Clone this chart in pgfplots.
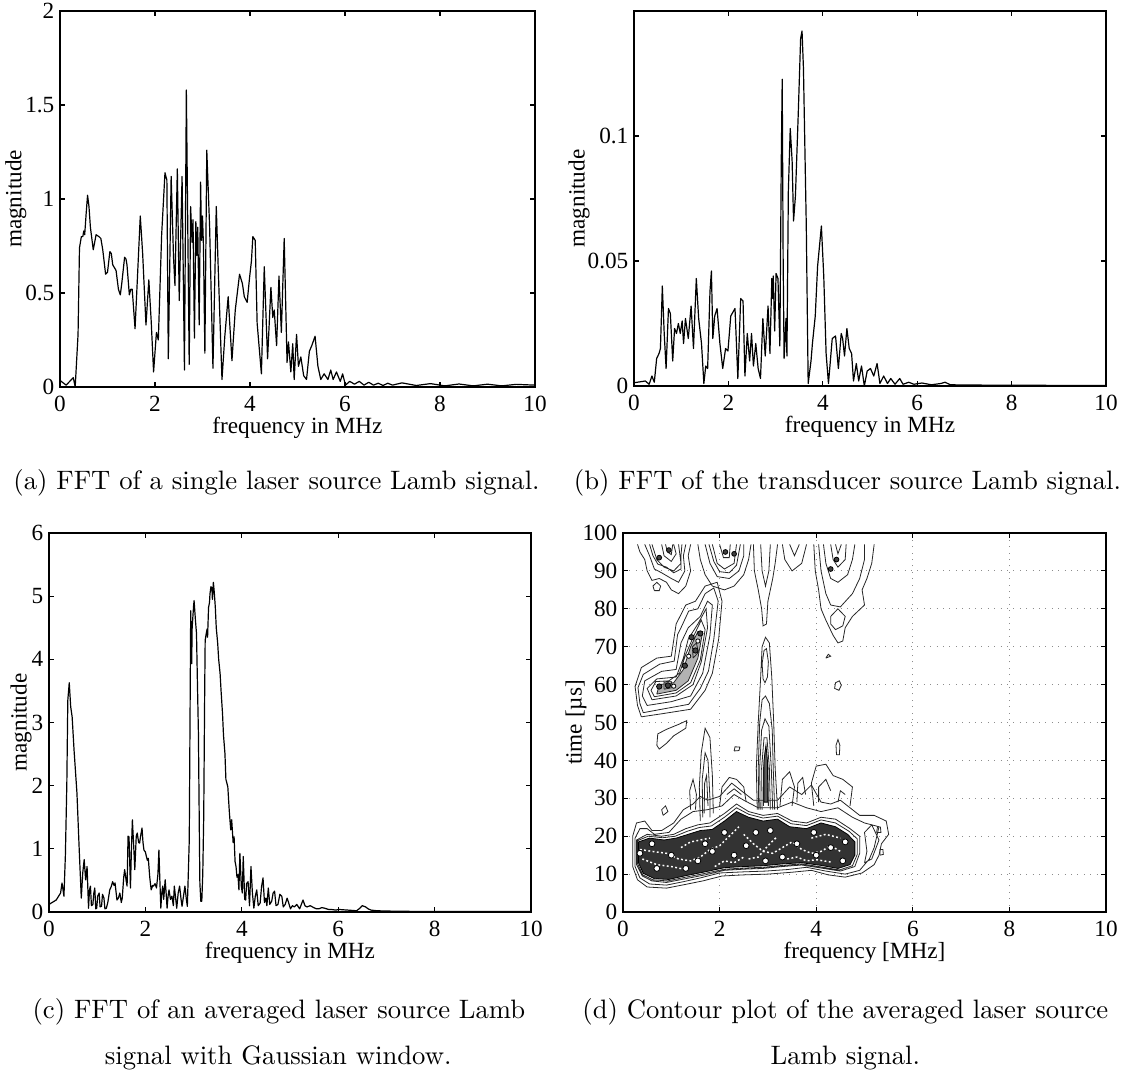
\documentclass[border=0pt]{standalone}
\usepackage{fontspec}
\newfontfamily\tnr{Liberation Serif}
\usepackage{pgfplots}
\pgfplotsset{compat=1.18}
\pgfplotsset{
  mat/.style={
    scale only axis, xmin=0, xmax=10,
    xtick={0,2,4,6,8,10}, xticklabels={0,2,4,6,8,10},
    tick align=inside, major tick length=2pt,
    axis line style={line width=0.45pt},
    every tick/.style={black, line width=0.4pt},
    ticklabel style={font=\tnr\fontsize{8.7}{10}\selectfont},
    label style={font=\tnr\fontsize{8.7}{10}\selectfont},
    yticklabel style={xshift=1.4pt},
    xlabel style={at={(axis description cs:0.5,0)}, anchor=center, yshift=-15.3pt},
    clip=true,
  },
  sig/.style={black, line width=0.45pt, line join=round},
  cl/.style={black!85, line width=0.3pt, unbounded coords=jump},
}
\begin{document}
\begin{tikzpicture}
\useasboundingbox (0,0) rectangle (425.25pt,-403.125pt);
% ---------------- (a)
\begin{axis}[mat, at={(22.5pt,-4.125pt)}, anchor=north west,
  width=178.125pt, height=141pt, ymin=0, ymax=2,
  ytick={0,0.5,1,1.5,2}, yticklabels={0,0.5,1,1.5,2},
  xlabel={frequency in MHz}, ylabel={magnitude},
  ylabel style={at={(axis description cs:-0.093,0.5)}, anchor=center}]
\addplot[sig] coordinates {
(0,0.035)(0.13,0.01)(0.28,0.05)(0.32,0.0)(0.38,0.28)(0.41,0.74)(0.45,0.8)(0.48,0.8)(0.5,0.83)(0.52,0.81)
(0.55,0.92)(0.58,1.02)(0.61,0.96)(0.64,0.85)(0.7,0.73)(0.76,0.81)(0.82,0.8)(0.86,0.79)(0.9,0.73)(0.96,0.6)
(1.0,0.61)(1.05,0.72)(1.08,0.71)(1.11,0.65)(1.18,0.62)(1.23,0.52)(1.27,0.49)(1.3,0.55)(1.36,0.69)(1.39,0.68)
(1.41,0.65)(1.46,0.49)(1.49,0.52)(1.52,0.52)(1.58,0.31)(1.63,0.58)(1.69,0.91)(1.74,0.71)(1.81,0.33)(1.87,0.57)
(1.92,0.35)(1.97,0.08)(2.03,0.29)(2.07,0.25)(2.14,0.81)(2.21,1.14)(2.25,1.1)(2.28,0.15)(2.34,1.12)(2.39,0.69)
(2.42,0.54)(2.47,1.16)(2.51,0.46)(2.57,1.12)(2.62,0.09)(2.66,1.58)(2.72,0.12)(2.75,0.96)(2.78,0.77)(2.8,0.89)
(2.83,0.26)(2.86,0.88)(2.88,0.7)(2.9,0.85)(2.93,0.33)(2.96,1.09)(2.98,0.78)(3.0,0.91)(3.02,0.75)(3.05,0.18)
(3.09,1.26)(3.15,0.85)(3.22,0.1)(3.29,0.96)(3.33,0.64)(3.41,0.04)(3.47,0.27)(3.54,0.48)(3.62,0.14)(3.69,0.41)
(3.78,0.6)(3.84,0.55)(3.88,0.48)(3.94,0.45)(3.99,0.58)(4.03,0.67)(4.06,0.8)(4.11,0.78)(4.15,0.34)(4.24,0.07)
(4.3,0.64)(4.37,0.15)(4.44,0.53)(4.48,0.37)(4.51,0.41)(4.56,0.22)(4.61,0.59)(4.66,0.29)(4.72,0.79)(4.78,0.13)
(4.81,0.24)(4.86,0.08)(4.9,0.23)(4.93,0.04)(4.98,0.28)(5.02,0.11)(5.07,0.16)(5.13,0.06)(5.19,0.04)(5.25,0.19)
(5.3,0.22)(5.37,0.27)(5.43,0.11)(5.49,0.04)(5.56,0.07)(5.64,0.04)(5.7,0.09)(5.75,0.04)(5.82,0.08)(5.9,0.03)
(5.95,0.07)(6.01,0.01)(6.1,0.03)(6.2,0.015)(6.3,0.03)(6.4,0.01)(6.5,0.025)(6.6,0.01)(6.7,0.02)(6.8,0.008)
(6.9,0.02)(7.0,0.01)(7.2,0.022)(7.5,0.008)(7.8,0.018)(8.1,0.006)(8.4,0.016)(8.7,0.006)(9.0,0.015)(9.3,0.006)
(9.6,0.014)(10,0.01)};
\end{axis}
% ---------------- (b)
\begin{axis}[mat, at={(237.75pt,-4.125pt)}, anchor=north west,
  width=177pt, height=140.625pt, ymin=0, ymax=0.15,
  ytick={0,0.05,0.1}, yticklabels={0,0.05,0.1},
  xlabel={frequency in MHz}, ylabel={magnitude},
  ylabel style={at={(axis description cs:-0.1165,0.5)}, anchor=center}]
\addplot[sig] coordinates {
(0,0.0013)(0.24,0.002)(0.32,0.0007)(0.38,0.004)(0.43,0.0015)(0.48,0.011)(0.53,0.013)(0.56,0.015)(0.6,0.04)(0.64,0.021)
(0.68,0.007)(0.73,0.031)(0.77,0.029)(0.82,0.01)(0.86,0.023)(0.9,0.021)(0.94,0.025)(0.98,0.021)(1.02,0.026)(1.05,0.017)
(1.09,0.027)(1.15,0.019)(1.21,0.032)(1.26,0.015)(1.32,0.043)(1.37,0.027)(1.43,0.017)(1.48,0.001)(1.52,0.008)(1.56,0.007)
(1.61,0.038)(1.64,0.046)(1.67,0.019)(1.71,0.028)(1.76,0.031)(1.82,0.017)(1.88,0.007)(1.94,0.015)(1.99,0.014)(2.05,0.028)
(2.14,0.031)(2.2,0.003)(2.26,0.035)(2.31,0.034)(2.35,0.004)(2.4,0.021)(2.45,0.01)(2.49,0.021)(2.53,0.008)(2.58,0.017)
(2.63,0.007)(2.68,0.003)(2.73,0.027)(2.78,0.012)(2.84,0.032)(2.88,0.013)(2.92,0.043)(2.94,0.035)(2.95,0.044)(2.98,0.022)
(3.01,0.045)(3.05,0.043)(3.09,0.016)(3.12,0.09)(3.14,0.1227)(3.16,0.05)(3.18,0.011)(3.22,0.027)(3.24,0.012)(3.27,0.078)
(3.31,0.103)(3.35,0.09)(3.38,0.066)(3.42,0.076)(3.48,0.109)(3.53,0.139)(3.56,0.142)(3.59,0.127)(3.65,0.064)(3.69,0.001)
(3.75,0.01)(3.78,0.017)(3.84,0.028)(3.89,0.048)(3.97,0.064)(4.02,0.044)(4.07,0.013)(4.12,0.001)(4.2,0.019)(4.27,0.02)
(4.33,0.007)(4.39,0.021)(4.42,0.019)(4.46,0.012)(4.51,0.023)(4.56,0.015)(4.61,0.013)(4.65,0.002)(4.71,0.009)(4.76,0.002)
(4.82,0.008)(4.88,0)(4.94,0.006)(5.01,0.007)(5.08,0.004)(5.15,0.009)(5.21,0.001)(5.29,0.004)(5.37,0.001)(5.44,0.003)
(5.53,0.0007)(5.63,0.003)(5.7,0.0007)(5.82,0.0015)(5.93,0.0007)(6.1,0.0012)(6.3,0.0005)(6.5,0.001)(6.59,0.0015)(6.7,0.0005)
(7,0.0004)(8,0.0003)(10,0.0002)};
\end{axis}
% ---------------- (c)
\begin{axis}[mat, at={(18.375pt,-199.875pt)}, anchor=north west,
  width=180.75pt, height=142.125pt, ymin=0, ymax=6,
  ytick={0,1,2,3,4,5,6}, yticklabels={0,1,2,3,4,5,6},
  xlabel={frequency in MHz}, ylabel={magnitude},
  ylabel style={at={(axis description cs:-0.058,0.5)}, anchor=center}]
\addplot[sig] coordinates {
(0,0.12)(0.15,0.19)(0.24,0.3)(0.27,0.46)(0.31,0.25)(0.34,0.9)(0.37,2.04)(0.39,3.35)(0.42,3.63)(0.45,3.25)
(0.48,3.09)(0.52,2.56)(0.58,1.88)(0.63,0.93)(0.67,0.22)(0.7,0.62)(0.73,0.83)(0.76,0.51)(0.79,0.72)(0.82,0.06)
(0.84,0.35)(0.86,0.41)(0.88,0.1)(0.91,0.12)(0.93,0.3)(0.95,0.38)(0.97,0.05)(0.99,0.06)(1.01,0.25)(1.04,0.3)
(1.06,0.08)(1.09,0.09)(1.11,0.28)(1.14,0.22)(1.16,0.05)(1.19,0.06)(1.22,0.15)(1.26,0.35)(1.29,0.4)(1.32,0.48)
(1.35,0.42)(1.37,0.46)(1.41,0.19)(1.44,0.22)(1.47,0.3)(1.5,0.15)(1.52,0.22)(1.55,0.55)(1.57,0.67)(1.6,0.5)
(1.62,0.41)(1.64,1.2)(1.66,1.19)(1.69,0.38)(1.71,1.0)(1.73,1.46)(1.76,1.0)(1.78,0.67)(1.81,1.2)(1.83,1.25)
(1.86,1.1)(1.88,1.09)(1.9,1.2)(1.93,1.33)(1.95,1.1)(1.97,0.98)(2.0,0.95)(2.02,0.88)(2.04,0.82)(2.06,0.85)
(2.09,0.55)(2.12,0.35)(2.15,0.42)(2.17,0.41)(2.2,0.45)(2.23,0.38)(2.26,0.6)(2.28,0.98)(2.3,0.5)(2.32,0.06)
(2.34,0.3)(2.36,0.41)(2.38,0.2)(2.41,0.51)(2.43,0.3)(2.45,0.06)(2.47,0.25)(2.49,0.35)(2.52,0.2)(2.55,0.25)
(2.58,0.1)(2.6,0.41)(2.63,0.2)(2.65,0.06)(2.68,0.3)(2.71,0.41)(2.74,0.2)(2.76,0.09)(2.79,0.25)(2.82,0.41)
(2.85,0.2)(2.87,0.09)(2.89,0.6)(2.91,1.14)(2.94,4.77)(2.96,3.93)(2.97,4.5)(3.0,4.85)(3.01,4.93)(3.04,4.6)
(3.06,4.41)(3.08,3.6)(3.1,2.83)(3.12,1.2)(3.13,0.46)(3.15,0.17)(3.17,0.17)(3.19,0.6)(3.21,1.51)(3.23,3.5)
(3.24,4.3)(3.26,4.4)(3.28,4.48)(3.29,4.35)(3.31,4.82)(3.33,4.9)(3.34,5.04)(3.36,5.15)(3.38,5.13)(3.39,4.95)
(3.41,5.22)(3.43,5.05)(3.45,4.83)(3.47,4.5)(3.5,4.25)(3.52,4.0)(3.55,3.77)(3.57,3.5)(3.6,3.14)(3.62,2.8)
(3.65,2.51)(3.67,2.1)(3.71,1.98)(3.74,1.6)(3.77,1.3)(3.79,1.46)(3.82,1.1)(3.84,1.19)(3.86,0.8)(3.88,0.72)
(3.9,0.55)(3.92,0.59)(3.94,0.35)(3.96,0.93)(3.99,0.41)(4.01,0.3)(4.03,0.88)(4.06,0.2)(4.08,0.19)(4.1,0.45)
(4.13,0.48)(4.16,0.1)(4.19,0.72)(4.22,0.3)(4.25,0.06)(4.28,0.25)(4.31,0.35)(4.34,0.1)(4.38,0.14)(4.41,0.4)
(4.44,0.54)(4.47,0.15)(4.5,0.22)(4.52,0.1)(4.55,0.38)(4.58,0.12)(4.62,0.17)(4.65,0.3)(4.68,0.33)(4.71,0.1)
(4.75,0.12)(4.79,0.28)(4.83,0.25)(4.86,0.08)(4.9,0.12)(4.94,0.22)(4.97,0.15)(5.01,0.05)(5.05,0.1)(5.09,0.08)
(5.14,0.12)(5.2,0.05)(5.27,0.19)(5.31,0.1)(5.35,0.08)(5.42,0.1)(5.49,0.07)(5.55,0.05)(5.6,0.05)(5.66,0.07)
(5.72,0.06)(5.8,0.04)(5.86,0.04)(5.95,0.03)(6.01,0.04)(6.2,0.03)(6.38,0.02)(6.45,0.06)(6.5,0.1)(6.57,0.08)
(6.62,0.05)(6.68,0.03)(6.8,0.02)(7,0.015)(7.5,0.01)(8,0.01)(9,0.008)(10,0.008)};
\end{axis}
% ---------------- (d)
\begin{axis}[mat, at={(233.625pt,-199.875pt)}, anchor=north west,
  width=181.125pt, height=142.125pt, ymin=0, ymax=100,
  ytick={0,10,...,100}, yticklabels={0,10,20,30,40,50,60,70,80,90,100},
  grid=major, grid style={dotted, black!45, line width=0.4pt},
  xlabel={frequency [MHz]}, ylabel={time [µs]},
  ylabel style={at={(axis description cs:-0.097,0.5)}, anchor=center}]
% band outer rings
\addplot[cl] table[row sep=\\]{x y\\
0.2 12\\0.2 20\\0.28 23.5\\0.45 24\\0.6 21.5\\0.8 21.5\\1.05 23.5\\1.25 27\\1.45 28.5\\1.6 30.5\\1.75 29.5\\2.0 30.5\\2.25 34\\2.45 32\\2.7 29.5\\3.2 29.5\\3.45 33\\3.7 31\\3.9 33.5\\4.1 29\\4.3 28.5\\4.5 29.5\\4.7 27.5\\4.9 25.5\\5.2 25.5\\5.45 24\\5.5 20.5\\5.35 18\\5.3 15\\5.2 12.5\\4.95 10.3\\4.6 9.2\\4.25 9.8\\3.9 11\\3.5 10.5\\3.0 10\\2.5 9.8\\2.05 9.5\\1.65 8.2\\1.3 7.3\\0.9 6.3\\0.5 6.6\\0.3 8.5\\0.2 12\\
nan nan\\
0.25 12\\0.25 19.5\\0.35 22\\0.5 22\\0.65 20.5\\0.95 21\\1.2 24.5\\1.45 26.5\\1.75 27\\2.05 28\\2.3 31\\2.5 29.5\\2.8 27.5\\3.2 27.5\\3.5 29\\3.8 27.5\\4.1 26.5\\4.45 27.5\\4.75 25\\5.0 23.5\\5.3 22.5\\5.2 17\\5.1 14\\4.9 11\\4.6 10\\4.2 10.8\\3.8 11.8\\3.4 11.2\\2.95 10.8\\2.5 10.6\\2.0 10.3\\1.6 9\\1.25 8\\0.9 7.1\\0.55 7.4\\0.35 9\\0.25 12\\
nan nan\\
0.28 12.5\\0.28 19\\0.5 20.5\\0.8 20\\1.05 20.5\\1.3 22\\1.55 23\\1.8 23.5\\2.1 26\\2.35 28.5\\2.6 26.5\\2.9 25.5\\3.2 26\\3.5 24\\3.8 23.5\\4.1 25\\4.4 24.5\\4.7 22\\4.9 20\\4.9 15.5\\4.8 12\\4.5 10.8\\4.1 11.6\\3.7 12.4\\3.3 12\\2.9 11.5\\2.5 11.3\\2.1 11\\1.7 9.8\\1.3 8.8\\0.9 7.8\\0.6 8.2\\0.4 9.5\\0.28 12.5\\
nan nan\\
0.3 12.8\\0.3 18.8\\0.52 20\\0.82 19.6\\1.08 20\\1.33 21.3\\1.58 22.3\\1.83 22.7\\2.1 25\\2.35 27.5\\2.6 25.8\\2.9 24.8\\3.2 25.3\\3.48 23.3\\3.8 22.8\\4.1 24.3\\4.4 23.5\\4.68 21.3\\4.85 19.3\\4.85 15.2\\4.75 12.2\\4.48 11.1\\4.1 11.9\\3.7 12.7\\3.3 12.3\\2.9 11.8\\2.5 11.6\\2.1 11.3\\1.7 10.2\\1.3 9.2\\0.92 8.2\\0.62 8.5\\0.41 9.8\\0.3 12.8\\
nan nan\\
5.0 13\\5.05 16\\5.0 21\\5.15 23\\5.3 19\\5.15 14\\5.0 13\\
};
% dense core
\addplot[fill=black!80, draw=black, line width=0.3pt] coordinates {
(0.32,13)(0.32,18.5)(0.55,19.5)(0.85,19)(1.1,19.5)(1.35,20.5)(1.6,21.5)(1.85,21.8)(2.1,24)(2.35,26.5)(2.6,25)(2.9,24)(3.2,24.5)(3.45,22.5)(3.8,22)(4.1,23.5)(4.4,22.5)(4.65,20.5)(4.8,18.5)(4.8,15)(4.7,12.5)(4.45,11.5)(4.1,12.3)(3.7,13)(3.3,12.7)(2.9,12.2)(2.5,12)(2.1,11.7)(1.7,10.6)(1.3,9.6)(0.95,8.6)(0.65,8.8)(0.42,10.2)(0.32,13)};
% light ridges inside the core
\addplot[white, line width=0.55pt, dash pattern=on 0.7pt off 0.9pt, unbounded coords=jump] table[row sep=\\]{x y\\
0.35 16.5\\0.6 16\\0.9 15.5\\1.15 14\\1.4 13.5\\1.6 14.5\\1.8 16.5\\2.0 17.5\\2.2 20\\2.4 22.5\\
nan nan\\
2.5 20.5\\2.7 18\\2.9 16\\3.1 15.5\\3.3 17\\3.5 18.5\\3.7 16.5\\3.9 15.5\\4.1 16\\4.3 17.5\\4.5 16\\
nan nan\\
0.4 14\\0.7 12.5\\1.0 12\\1.3 11.2\\
nan nan\\
2.6 14\\2.8 14.5\\3.0 17.5\\3.2 20\\
nan nan\\
3.9 19.5\\4.2 20.5\\4.5 19.5\\
nan nan\\
1.9 12\\2.1 13.5\\2.3 13\\2.5 14.5\\
nan nan\\
1.2 17\\1.4 18.5\\1.6 19\\1.8 19.5\\
nan nan\\
3.4 14\\3.6 14.5\\3.8 13.5\\4.0 13.8\\4.3 13.2\\
};
\addplot[only marks, mark=*, mark size=1.1pt, mark options={fill=white, draw=black, line width=0.3pt}] coordinates {
(0.35,15.5)(1.0,15)(1.55,13.5)(1.85,16)(2.3,15)(2.75,21)(3.3,14.5)(3.6,18)(4.0,15)(4.3,17)(4.55,13.5)(0.7,11.5)(1.3,11.5)(2.55,17.5)(3.05,21.5)(0.6,18)(2.1,21)(3.95,21)(4.6,18.5)(1.7,18)(2.95,13.5)};
% columns and isolated loops
\addplot[cl] table[row sep=\\]{x y\\
1.6 24\\1.58 33\\1.62 42\\1.7 48.5\\1.8 46\\1.85 36\\1.87 26\\nan nan\\
1.65 25\\1.64 35\\1.7 42\\1.76 40\\1.8 30\\1.8 25\\nan nan\\
1.68 26\\1.69 34\\1.73 36\\1.76 28\\nan nan\\
1.4 27\\1.38 32\\1.45 35\\1.52 31\\1.5 27\\nan nan\\
2.0 28\\2.05 33\\2.2 35.5\\2.35 35\\2.5 33\\2.55 29\\nan nan\\
2.15 31\\2.3 32.5\\2.45 31\\nan nan\\
2.78 27\\2.76 38\\2.8 50\\2.85 62\\2.88 70\\2.95 72.5\\3.03 71\\3.08 62\\3.12 50\\3.15 38\\3.2 27\\nan nan\\
2.9 61.5\\2.88 65.5\\2.92 69\\2.97 69.5\\3.01 66\\2.99 62\\2.94 60.5\\2.9 61.5\\nan nan\\
2.81 27\\2.8 38\\2.83 50\\2.88 56\\2.95 57\\3.03 55\\3.09 48\\3.11 38\\3.14 27\\nan nan\\
2.84 27\\2.83 38\\2.87 48\\2.94 51\\3.02 49\\3.07 38\\3.1 27\\nan nan\\
2.88 27\\2.87 38\\2.92 46\\2.98 46\\3.03 38\\3.05 27\\nan nan\\
2.91 28\\2.91 38\\2.95 43\\3.0 38\\3.01 28\\nan nan\\
3.25 28\\3.3 35\\3.45 37\\3.55 33\\3.5 28\\nan nan\\
3.6 29\\3.62 34\\3.72 35.5\\3.78 31\\nan nan\\
3.95 28\\3.9 34\\4.0 38.5\\4.2 39\\4.35 36\\4.55 35\\4.75 33\\4.7 28\\nan nan\\
4.05 29\\4.05 33\\4.2 35\\4.3 32\\nan nan\\
4.45 29\\4.5 32\\4.6 31\\nan nan\\
0.83 25.5\\0.8 27\\0.88 28\\0.93 26.5\\0.83 25.5\\nan nan\\
0.7 44\\0.72 47\\0.9 48.2\\1.15 49.5\\1.32 50.5\\1.3 48.5\\1.05 46.5\\0.9 44.5\\0.75 43\\0.7 44\\nan nan\\
2.3 42.5\\2.32 43.6\\2.42 43.5\\2.4 42.6\\2.3 42.5\\nan nan\\
4.42 41.5\\4.41 44\\4.45 45.5\\4.49 44\\4.48 41.5\\4.42 41.5\\nan nan\\
4.38 59\\4.4 60.5\\4.48 61\\4.52 59.8\\4.47 58.5\\4.38 59\\nan nan\\
4.2 67\\4.25 68\\4.3 67.5\\4.2 67\\nan nan\\
5.25 21\\5.27 22.5\\5.33 22.4\\5.34 21\\5.25 21\\nan nan\\
5.32 15\\5.32 16.5\\5.38 16.5\\5.39 15.2\\5.32 15\\
};
\addplot[fill=black!65, draw=black, line width=0.3pt] coordinates {
(2.92,29)(2.92,40)(2.96,44)(2.99,40)(3.0,29)(2.92,29)};
% diagonal streak
\addplot[fill=black!30, draw=black!85, line width=0.3pt] coordinates {
(0.7,57.5)(1.1,58.5)(1.35,61)(1.55,67)(1.65,74)(1.55,74)(1.4,70)(1.25,64)(1.05,60.5)(0.75,60)(0.7,57.5)};
\addplot[cl] table[row sep=\\]{x y\\
0.38 51.5\\0.8 52.3\\1.4 53.5\\1.7 58.5\\1.85 63\\1.98 72\\2.05 82\\1.95 87\\1.7 86\\1.5 82\\1.3 81\\1.1 76\\1.0 67.5\\0.7 67\\0.38 64.5\\0.25 59.5\\0.3 54.5\\0.38 51.5\\nan nan\\
0.42 52.6\\0.8 53.5\\1.36 54.8\\1.6 59\\1.77 63.6\\1.88 72\\1.97 82\\1.88 85.5\\1.7 84\\1.55 80\\1.36 79.4\\1.2 75\\1.13 73.2\\1.06 66.2\\0.76 65.4\\0.42 62.7\\0.31 59.2\\0.35 55\\0.42 52.6\\nan nan\\
0.5 54.5\\1.0 55.5\\1.4 57\\1.65 63\\1.8 73\\1.85 81\\1.75 82\\1.6 78\\1.35 75\\1.2 71\\1.1 64\\0.8 63.5\\0.45 61\\0.4 57\\0.5 54.5\\nan nan\\
0.6 56\\1.1 57\\1.45 60\\1.62 66\\1.75 75\\1.72 80\\1.55 76\\1.35 72\\1.25 67\\1.1 62\\0.7 61.5\\0.5 59\\0.6 56\\nan nan\\
0.65 56.8\\1.1 57.8\\1.4 60.5\\1.6 66.5\\1.7 74.5\\1.62 77\\1.47 73\\1.3 68\\1.17 63\\0.95 61\\0.68 60.8\\0.58 58.5\\0.65 56.8\\nan nan\\
1.45 67\\1.44 70\\1.52 71\\1.56 68.5\\1.45 67\\nan nan\\
0.85 58.8\\0.85 60.6\\1.0 60.8\\1.02 59.2\\0.85 58.8\\
};
\addplot[only marks, mark=*, mark size=1pt, mark options={fill=black!75, draw=black, line width=0.3pt}] coordinates {
(1.5,69)(1.42,72.5)(1.28,65)(0.93,59.8)(0.75,59.5)(1.6,73.5)};
\addplot[only marks, mark=*, mark size=0.8pt, mark options={fill=white, draw=black, line width=0.3pt}] coordinates {
(1.36,67.5)(1.05,59.6)(1.55,71.5)};
% top clusters
\addplot[cl] table[row sep=\\]{x y\\
0.3 97\\0.35 95\\0.45 93\\0.5 90\\0.6 87.5\\0.75 88\\0.9 87\\1.0 85\\1.15 84\\1.3 86\\1.4 90\\1.35 94\\1.4 97\\nan nan\\
0.45 97\\0.55 94\\0.65 90.5\\0.8 89.5\\1.0 88\\1.15 87\\1.28 90\\1.25 94\\1.3 97\\nan nan\\
0.55 97\\0.62 94\\0.72 91.8\\0.9 91\\1.05 89.5\\1.2 90.5\\1.2 94\\1.22 97\\nan nan\\
0.6 97\\0.7 93\\0.85 91\\1.05 90\\1.2 92\\1.15 97\\nan nan\\
0.8 97\\0.85 94\\1.0 92.5\\1.1 94.5\\1.05 97\\nan nan\\
0.88 97\\0.92 95\\1.0 94.3\\1.03 97\\nan nan\\
0.65 84.8\\0.62 86\\0.7 87\\0.78 86\\0.75 84.8\\0.65 84.8\\nan nan\\
1.55 97\\1.6 93\\1.7 89\\1.85 86\\2.1 85\\2.3 86\\2.5 89\\2.6 93\\2.65 97\\nan nan\\
1.7 97\\1.8 92\\1.95 88.5\\2.2 88\\2.4 90\\2.5 94\\2.5 97\\nan nan\\
1.78 97\\1.88 92.5\\2.0 89.8\\2.2 89.5\\2.35 91.5\\2.43 97\\nan nan\\
1.85 97\\1.95 92\\2.1 90.5\\2.3 92\\2.35 97\\nan nan\\
2.0 97\\2.08 93.5\\2.2 93.5\\2.22 97\\nan nan\\
2.7 97\\2.72 90\\2.8 85\\2.87 80\\2.9 75.5\\2.97 76\\3.0 82\\3.1 88\\3.15 92\\3.2 97\\nan nan\\
2.85 97\\2.88 90\\2.95 86\\3.02 90\\3.05 97\\nan nan\\
3.3 97\\3.35 93\\3.5 90\\3.7 92\\3.8 97\\nan nan\\
3.45 97\\3.55 94\\3.65 97\\nan nan\\
3.95 97\\3.98 90\\4.05 85\\4.1 80\\4.2 77\\4.35 73\\4.45 71\\4.55 71.5\\4.6 75\\4.75 78\\5.0 81\\4.95 85\\5.05 88\\5.15 92\\5.2 97\\nan nan\\
4.05 97\\4.1 90\\4.2 84\\4.3 81\\4.5 80.5\\4.75 84\\4.9 88\\5.0 93\\5.0 97\\nan nan\\
4.3 76\\4.4 74.5\\4.55 75.5\\4.6 78\\4.45 80\\4.3 78\\4.3 76\\nan nan\\
4.15 97\\4.2 92\\4.3 88\\4.45 87\\4.65 89\\4.75 93\\4.8 97\\nan nan\\
4.3 97\\4.35 93\\4.45 91\\4.6 93\\4.62 97\\nan nan\\
4.4 97\\4.45 94.5\\4.52 97\\
};
\addplot[only marks, mark=*, mark size=0.9pt, mark options={fill=black!75, draw=black, line width=0.3pt}] coordinates {
(0.95,95.5)(0.75,93.5)(2.12,95)(2.3,94.5)(4.42,93)(4.3,90.5)};
\end{axis}
% ---------------- captions
\node[anchor=base, font=\fontsize{10}{12}\selectfont] at (103.7pt,-183.4pt) {(a) FFT of a single laser source Lamb signal.};
\node[anchor=base, font=\fontsize{10}{12}\selectfont] at (317.8pt,-183.4pt) {(b) FFT of the transducer source Lamb signal.};
\node[anchor=base, font=\fontsize{10}{12}\selectfont] at (104.6pt,-382.1pt) {(c) FFT of an averaged laser source Lamb};
\node[anchor=base, font=\fontsize{10}{12}\selectfont] at (104.3pt,-399pt) {signal with Gaussian window.};
\node[anchor=base, font=\fontsize{10}{12}\selectfont] at (317pt,-382.1pt) {(d) Contour plot of the averaged laser source};
\node[anchor=base, font=\fontsize{10}{12}\selectfont] at (317pt,-399pt) {Lamb signal.};
\end{tikzpicture}
\end{document}
